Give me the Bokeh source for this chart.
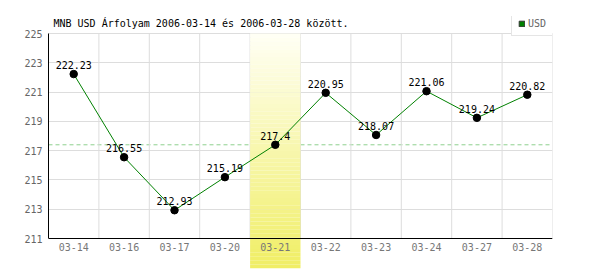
from bokeh.plotting import figure
from bokeh.models import (FixedTicker, Span, Legend, LegendItem, Range1d,
                          ColumnDataSource)
from bokeh.core.properties import value
from bokeh.embed import file_html
from bokeh.resources import INLINE

dates = ["03-14", "03-16", "03-17", "03-20", "03-21",
         "03-22", "03-23", "03-24", "03-27", "03-28"]
rates = [222.23, 216.55, 212.93, 215.19, 217.4,
         220.95, 218.07, 221.06, 219.24, 220.82]
labels = ["222.23", "216.55", "212.93", "215.19", "217.4",
          "220.95", "218.07", "221.06", "219.24", "220.82"]
y_ticks = [211, 213, 215, 217, 219, 221, 223, 225]
highlight = 4
title = "MNB USD Árfolyam 2006-03-14 és 2006-03-28 között."
currency = "USD"

FONT = value("DejaVu Sans Mono")
ymin, ymax = y_ticks[0], y_ticks[-1]
ppu = 205.0 / (ymax - ymin)
ytop = ymax + 17 / ppu      # room for title/legend inside the frame
yext = ymin - 30 / ppu      # band runs below the axis
n = len(dates)
xs = list(range(n))

p = figure(width=600, height=270, output_backend="svg", toolbar_location=None,
           x_range=Range1d(-0.5, n - 0.5), y_range=Range1d(yext, ytop),
           x_axis_location=None, min_border_left=48, min_border_right=48,
           min_border_top=16, min_border_bottom=2)
p.outline_line_color = None
p.background_fill_color = "white"
p.border_fill_color = "white"

ax = p.yaxis[0]
ax.ticker = FixedTicker(ticks=y_ticks)
ax.bounds = (ymin, ymax)
ax.major_tick_line_color = None
ax.minor_tick_line_color = None
ax.major_tick_out = 0
ax.major_label_standoff = 6
ax.major_label_text_font = "DejaVu Sans Mono"
ax.major_label_text_font_size = "10px"
ax.major_label_text_color = "#666666"
ax.axis_line_color = "black"

p.xgrid.visible = False
p.ygrid.ticker = FixedTicker(ticks=y_ticks)
p.ygrid.grid_line_color = "#dddddd"
p.ygrid.level = "underlay"

# vertical grid at category boundaries
bounds_x = [i + 0.5 for i in range(n)]
p.segment(x0=bounds_x, y0=[ymin] * n, x1=bounds_x, y1=[ymax] * n,
          line_color="#dddddd", line_width=1)

# dashed reference line at the highlighted day's value
ref = Span(location=rates[highlight], dimension="width", line_color="#8fd08f",
           line_dash="4 3", line_width=1, level="underlay")
p.add_layout(ref)

# gradient band for the highlighted day
steps = 60
top_c = (255, 255, 245)
bot_c = (240, 238, 100)
b_bot, b_top, b_col = [], [], []
for k in range(steps):
    t0 = ymax - (ymax - yext) * k / steps
    t1 = ymax - (ymax - yext) * (k + 1) / steps
    f = (k + 0.5) / steps
    c = tuple(int(round(top_c[j] + (bot_c[j] - top_c[j]) * f)) for j in range(3))
    b_top.append(t0)
    b_bot.append(t1)
    b_col.append("#%02x%02x%02x" % c)
band = p.quad(left=[highlight - 0.5] * steps, right=[highlight + 0.5] * steps,
              bottom=b_bot, top=b_top, fill_color=b_col, line_color=None)

# x axis line (segment so that it stays inside the plot width)
p.segment(x0=[-0.5], y0=[ymin], x1=[n - 0.5], y1=[ymin],
          line_color="black", line_width=1)

src = ColumnDataSource(dict(x=xs, y=rates, lab=labels, d=dates,
                            yb=[ymin] * n))
p.line("x", "y", source=src, line_color="#008000", line_width=1)
p.scatter("x", "y", source=src, size=7.5, fill_color="black", line_color="black")
p.text("x", "y", text="lab", source=src, text_font=FONT,
       text_font_size="10px", text_color="black", text_align="center",
       text_baseline="bottom", y_offset=-5)
p.text("x", "yb", text="d", source=src, text_font=FONT,
       text_font_size="10px", text_color="#777777", text_align="center",
       text_baseline="top", y_offset=4)

# title
p.text(x=[-0.5], y=[ytop], text=[title], text_font=FONT,
       text_font_size="10px", text_color="black", text_align="left",
       text_baseline="alphabetic", x_offset=5, y_offset=7)

# legend swatch: hidden area renderer, only its legend glyph is shown
legsq = p.quad(left=[highlight - 0.5], right=[highlight + 0.5],
               bottom=[ymin], top=[ymax], fill_color="#008000",
               line_color="#333333", visible=False)
leg = Legend(items=[LegendItem(label=currency, renderers=[legsq])],
             location=(463, 232), orientation="vertical",
             label_text_font="DejaVu Sans Mono", label_text_font_size="10px",
             label_text_color="#666666", glyph_width=7, glyph_height=7,
             label_height=8, label_standoff=3, padding=6, spacing=0,
             margin=0, border_line_color="#cccccc",
             background_fill_color="white", background_fill_alpha=1,
             click_policy="none")
p.add_layout(leg)

open("out.html", "w").write(file_html(p, INLINE))
